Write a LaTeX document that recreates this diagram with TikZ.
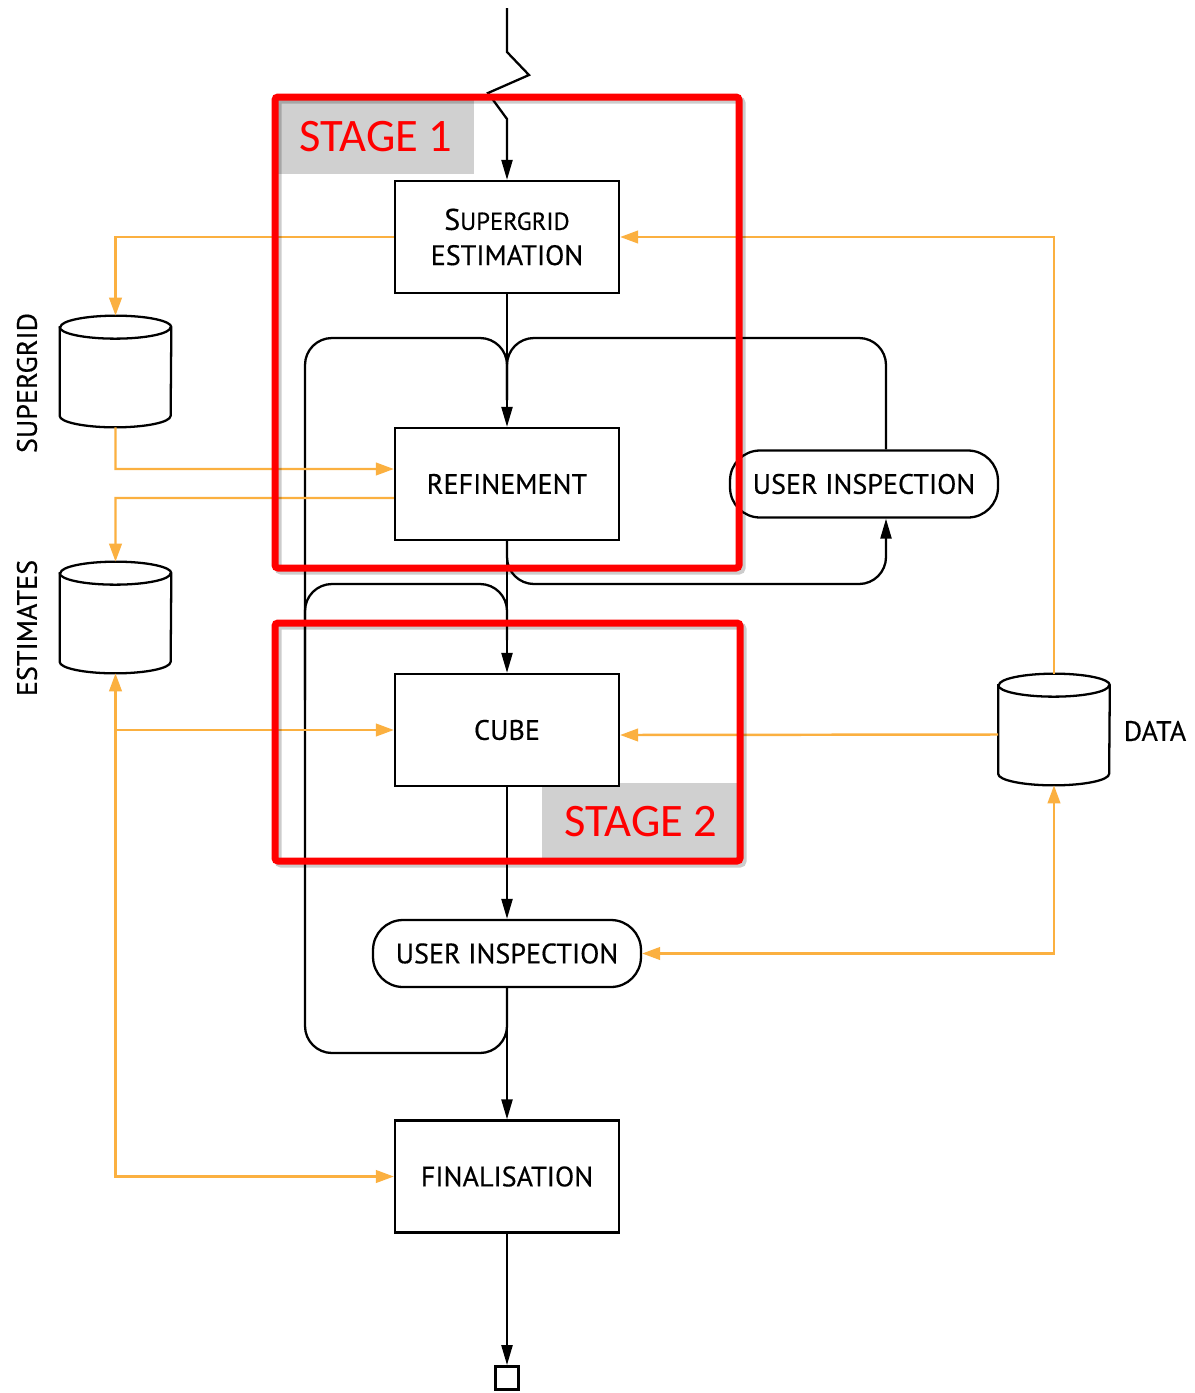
\documentclass[tikz,border=0pt]{standalone}
\usepackage{fontspec}
\newfontfamily\diagfont[FakeBold=0.4]{PT Sans}
\newfontfamily\stagefont{Carlito}
\usetikzlibrary{arrows.meta}
\definecolor{orng}{RGB}{251,176,64}
\definecolor{stagered}{RGB}{255,0,0}
\definecolor{labgray}{RGB}{208,208,208}
\newcommand\drawcyl[1]{%
  \draw[line width=1.3pt,fill=white] ([yshift=-0.23cm]#1.north west) -- ([yshift=0.23cm]#1.south west)
    arc[start angle=180,end angle=360,x radius=1.11cm,y radius=0.23cm]
    -- ([yshift=-0.23cm]#1.north east)
    arc[start angle=0,end angle=180,x radius=1.11cm,y radius=0.23cm] -- cycle;
  \draw[line width=1.3pt] ([yshift=-0.23cm]#1.north west)
    arc[start angle=180,end angle=360,x radius=1.11cm,y radius=0.23cm];
}
\begin{document}
\begin{tikzpicture}[x=0.02cm,y=-0.02cm,
  dfont/.style={font=\diagfont\fontsize{16}{20}\selectfont},
  blk/.style={line width=1.3pt,draw=black},
  barrow/.style={blk,-{Triangle[length=0.4cm,width=0.22cm]}},
  orline/.style={line width=1.4pt,draw=orng},
  oarrow/.style={orline,-{Triangle[length=0.36cm,width=0.25cm]}},
  obarrow/.style={orline,{Triangle[length=0.36cm,width=0.25cm]}-{Triangle[length=0.36cm,width=0.25cm]}},
  proc/.style={draw,line width=1.3pt,fill=white,minimum width=4.48cm,minimum height=2.24cm,inner sep=0pt,align=center,dfont},
  inspect/.style={draw,line width=1.3pt,fill=white,rounded corners=0.6cm,minimum width=5.36cm,minimum height=1.34cm,inner sep=0pt,dfont},
  store/.style={minimum width=2.22cm,minimum height=2.22cm,inner sep=0pt},
  lbl/.style={inner sep=0pt,dfont},
  stagelabel/.style={fill=labgray,text=stagered,inner sep=0pt,font=\stagefont\fontsize{26.5}{30}\selectfont},
  stagebox/.style={draw=stagered,line width=0.14cm,rounded corners=0.06cm},
  stageshadow/.style={draw=black,opacity=0.2,line width=0.14cm,rounded corners=0.06cm}
]
\useasboundingbox[fill=white] (0,0) rectangle (1195,1393);

% stage labels (background)
\node[stagelabel,minimum width=3.92cm,minimum height=1.48cm] (s1lab) at (376,137) {STAGE 1};
\node[stagelabel,minimum width=3.96cm,minimum height=1.54cm] (s2lab) at (641,821.5) {STAGE 2};

% process nodes
\node[proc] (sge) at (507,237) {{\fontsize{17}{20}\selectfont S}{\fontsize{14}{20}\selectfont UPERGRID}\\ESTIMATION};
\node[proc] (ref) at (507,484) {REFINEMENT};
\node[proc] (cube) at (507,730) {CUBE};
\node[inspect] (ui1) at (864,484) {USER INSPECTION};
\node[inspect] (ui2) at (507,953.5) {USER INSPECTION};
\node[proc] (fin) at (507,1176.5) {FINALISATION};
\node[draw,line width=1.6pt,minimum size=0.46cm,inner sep=0pt] (endsq) at (507,1378) {};

% data stores
\node[store] (sgdb) at (115.5,371.5) {};
\node[store] (estdb) at (115.5,617.5) {};
\node[store] (datadb) at (1054,729.5) {};
\drawcyl{sgdb}
\drawcyl{estdb}
\drawcyl{datadb}

\node[lbl,rotate=90] (lsg) at (27,383) {SUPERGRID};
\node[lbl,rotate=90] (lest) at (27,628) {ESTIMATES};
\node[lbl] (ldata) at (1155,731) {DATA};

% coordinates
\coordinate (top) at (507,8);
\coordinate (mergeA) at (507,400);
\coordinate (mergeB) at (507,640);
\coordinate (branchB) at (305,700);
\coordinate (ocube) at (115.5,730);

% black flow
\draw[barrow] (top) -- (507,52) -- (529,75) -- (488,93) -- (507,119) -- (sge.north);
\draw[barrow] (sge.south) -- (ref.north);
\draw[barrow] (ref.south) -- (cube.north);
\draw[barrow] (cube.south) -- (ui2.north);
\draw[barrow] (ui2.south) -- (fin.north);
\draw[barrow] (fin.south) -- (endsq.north);

% loops
\draw[blk,rounded corners=0.54cm] (ui2.south) -- (507,1053) -- (305,1053) -- (305,338) -- (507,338) -- (mergeA);
\draw[blk,rounded corners=0.54cm] (branchB) -- (305,584) -- (507,584) -- (mergeB);
\draw[blk,rounded corners=0.54cm] ([xshift=0.44cm]ui1.north) -- (886,338) -- (507,338) -- (mergeA);
\draw[barrow,rounded corners=0.54cm] (ref.south) -- (507,584) -- (886,584) -- ([xshift=0.44cm]ui1.south);

% orange flow
\draw[oarrow] (sge.west) -- (115.5,237) -- (sgdb.north);
\draw[oarrow] (datadb.north) -- (1054,237) -- (sge.east);
\draw[oarrow] (sgdb.south) -- (115.5,469) -- ([yshift=0.3cm]ref.west);
\draw[oarrow] ([yshift=-0.28cm]ref.west) -- (115.5,498) -- (estdb.north);
\draw[obarrow] (estdb.south) -- (115.5,1176.5) -- (fin.west);
\draw[oarrow] (ocube) -- (cube.west);
\draw[oarrow] ([yshift=-0.1cm]datadb.west) -- ([yshift=-0.1cm]cube.east);
\draw[obarrow] (datadb.south) -- (1054,953.5) -- (ui2.east);

% stage frames
\draw[stageshadow] (278,100) rectangle (742,571);
\draw[stagebox] (275,97) rectangle (739,568);
\draw[stageshadow] (278,626) rectangle (743,864);
\draw[stagebox] (275,623) rectangle (740,861);
\end{tikzpicture}
\end{document}
